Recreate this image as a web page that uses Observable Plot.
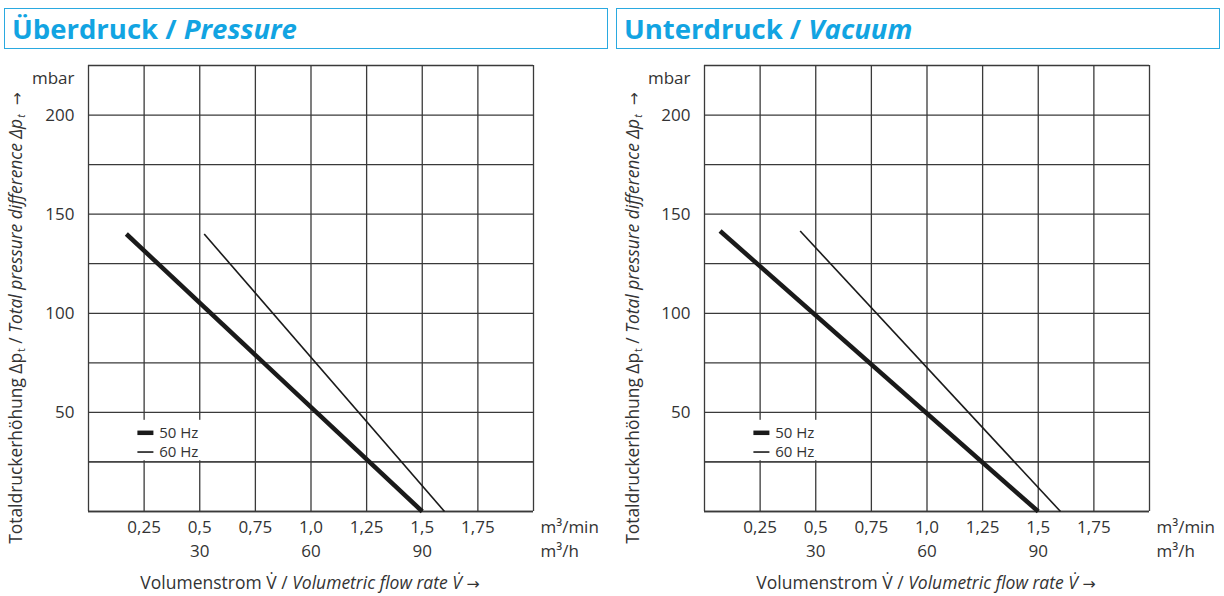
<!DOCTYPE html>
<html>
<head>
<meta charset="utf-8">
<script src="https://cdn.jsdelivr.net/npm/d3@7"></script>
<script src="https://cdn.jsdelivr.net/npm/@observablehq/plot@0.6"></script>
<style>
  html, body { margin: 0; padding: 0; background: #fff; }
  #root { position: relative; width: 1224px; height: 596px; overflow: hidden; font-family: "Open Sans", sans-serif; color: #333; }
  .hdr { position: absolute; top: 8px; height: 39px; border: 1.5px solid #2aa9e0; box-sizing: content-box;
         font-weight: 700; font-size: 27.5px; line-height: 39px; color: #12a4e2; white-space: nowrap; }
  .hdr span { padding-left: 7px; }
  .hdr i { font-style: italic; }
  .plotbox { position: absolute; top: 56px; }
  .ylab { position: absolute; white-space: nowrap; font-size: 17.4px; transform: translate(-50%, -50%) rotate(-90deg); }
  .xlab { position: absolute; white-space: nowrap; font-size: 17.5px; transform: translate(-50%, -50%); }
  sub { font-size: 0.6em; vertical-align: -0.3em; line-height: 0; margin-left: 1px; }
  .arr { font-family: "DejaVu Sans", sans-serif; font-size: 0.9em; }
</style>
</head>
<body>
<div id="root"></div>
<script>
// ---- data ----
const gridFlow = [0, 0.25, 0.5, 0.75, 1.0, 1.25, 1.5, 1.75, 2.0];
const gridDp = [0, 25, 50, 75, 100, 125, 150, 175, 200, 225];
const flowTicks = [0.25, 0.5, 0.75, 1.0, 1.25, 1.5, 1.75];
const flowTickLabels = ["0,25", "0,5", "0,75", "1,0", "1,25", "1,5", "1,75"];
const hourTicks = [0.5, 1.0, 1.5];
const hourTickLabels = ["30", "60", "90"];
const dpTicks = [50, 100, 150, 200];
const dpTickLabels = ["50", "100", "150", "200"];

const pressureFlow50 = [0.17, 1.5];
const pressureDp50 = [140, 0];
const pressureFlow60 = [0.52, 1.6];
const pressureDp60 = [140, 0];

const vacuumFlow50 = [0.07, 1.5];
const vacuumDp50 = [141.5, 0];
const vacuumFlow60 = [0.43, 1.6];
const vacuumDp60 = [141.5, 0];

const legendLabels = ["50 Hz", "60 Hz"];
const legendWidths = [4.5, 1.6];
const legendDp = [39.7, 30];
const legendFlow = [0.222, 0.294, 0.318];   // swatch start, swatch end, label start
const legendBox = {x1: 0.19, x2: 0.545, y1: 25.6, y2: 46};

const panels = [
  {title: "Überdruck / ", titleIt: "Pressure", hdrLeft: 4, hdrWidth: 602, svgLeft: 0, marginLeft: 88,
   f50: pressureFlow50, p50: pressureDp50, f60: pressureFlow60, p60: pressureDp60},
  {title: "Unterdruck / ", titleIt: "Vacuum", hdrLeft: 616, hdrWidth: 602, svgLeft: 617, marginLeft: 87,
   f50: vacuumFlow50, p50: vacuumDp50, f60: vacuumFlow60, p60: vacuumDp60}
];

const root = document.getElementById("root");
const ink = "#1a1a1a";
const gridColor = "#3a3a3a";
const fs = 17;

for (const p of panels) {
  const hdr = document.createElement("div");
  hdr.className = "hdr";
  hdr.style.left = p.hdrLeft + "px";
  hdr.style.width = p.hdrWidth + "px";
  hdr.innerHTML = "<span>" + p.title.replace(/ $/, "&nbsp;") + "<i>" + p.titleIt + "</i></span>";
  root.appendChild(hdr);

  const d50 = p.f50.map((x, i) => ({x, y: p.p50[i]}));
  const d60 = p.f60.map((x, i) => ({x, y: p.p60[i]}));
  const legend = legendLabels.map((label, i) => ({label, y: legendDp[i], w: legendWidths[i]}));

  const width = 607;
  const plot = Plot.plot({
    width, height: 540,
    marginLeft: p.marginLeft, marginRight: width - p.marginLeft - 445,
    marginTop: 9, marginBottom: 85,
    x: {domain: [0, 2]},
    y: {domain: [0, 225]},
    style: {fontFamily: "'Open Sans', sans-serif", fontSize: fs + "px", color: "#333", background: "transparent", overflow: "visible"},
    marks: [
      Plot.ruleX(gridFlow, {stroke: gridColor, strokeWidth: 1.3}),
      Plot.ruleY(gridDp, {stroke: gridColor, strokeWidth: 1.3}),
      Plot.rect([legendBox], {x1: "x1", x2: "x2", y1: "y1", y2: "y2", fill: "white"}),
      Plot.ruleY([0], {stroke: gridColor, strokeWidth: 1.3}),
      Plot.ruleY([25], {stroke: gridColor, strokeWidth: 1.3}),
      Plot.line(d60, {x: "x", y: "y", stroke: ink, strokeWidth: 1.6, strokeLinecap: "butt"}),
      Plot.line(d50, {x: "x", y: "y", stroke: ink, strokeWidth: 4.5, strokeLinecap: "butt"}),
      Plot.ruleY(legend, {y: "y", x1: legendFlow[0], x2: legendFlow[1], stroke: ink, strokeWidth: "w"}),
      Plot.text(legend, {y: "y", x: legendFlow[2], text: "label", textAnchor: "start", fill: "#333", fontSize: 15}),
      Plot.axisY(dpTicks, {tickSize: 0, tickPadding: 14, tickFormat: (d, i) => dpTickLabels[i], label: null, fill: "#333", fontSize: fs}),
      Plot.text(["mbar"], {frameAnchor: "top-left", dx: -14, dy: 6, textAnchor: "end", fill: "#333", fontSize: fs}),
      Plot.axisX(flowTicks, {tickSize: 0, tickPadding: 9, tickFormat: (d, i) => flowTickLabels[i], label: null, fill: "#333", fontSize: fs}),
      Plot.axisX(hourTicks, {tickSize: 0, tickPadding: 33, tickFormat: (d, i) => hourTickLabels[i], label: null, fill: "#333", fontSize: fs}),
      Plot.text(["m³/min"], {x: 2, frameAnchor: "bottom", dx: 7, dy: 16, textAnchor: "start", lineAnchor: "middle", fill: "#333", fontSize: fs}),
      Plot.text(["m³/h"], {x: 2, frameAnchor: "bottom", dx: 7, dy: 40, textAnchor: "start", lineAnchor: "middle", fill: "#333", fontSize: fs})
    ]
  });
  const box = document.createElement("div");
  box.className = "plotbox";
  box.style.left = p.svgLeft + "px";
  box.appendChild(plot);
  root.appendChild(box);

  const yl = document.createElement("div");
  yl.className = "ylab";
  yl.style.left = (p.svgLeft + 15) + "px";
  yl.style.top = "318px";
  yl.innerHTML = "Totaldruckerhöhung Δp<sub>t</sub> / <i>Total pressure difference Δp<sub>t</sub></i> &nbsp;<span class='arr'>→</span>";
  root.appendChild(yl);

  const xl = document.createElement("div");
  xl.className = "xlab";
  xl.style.left = (p.svgLeft + p.marginLeft + 222) + "px";
  xl.style.top = "582px";
  xl.innerHTML = "Volumenstrom V\u0307 / <i>Volumetric flow rate V\u0307</i> <span class='arr'>→</span>";
  root.appendChild(xl);
}
</script>
</body>
</html>
